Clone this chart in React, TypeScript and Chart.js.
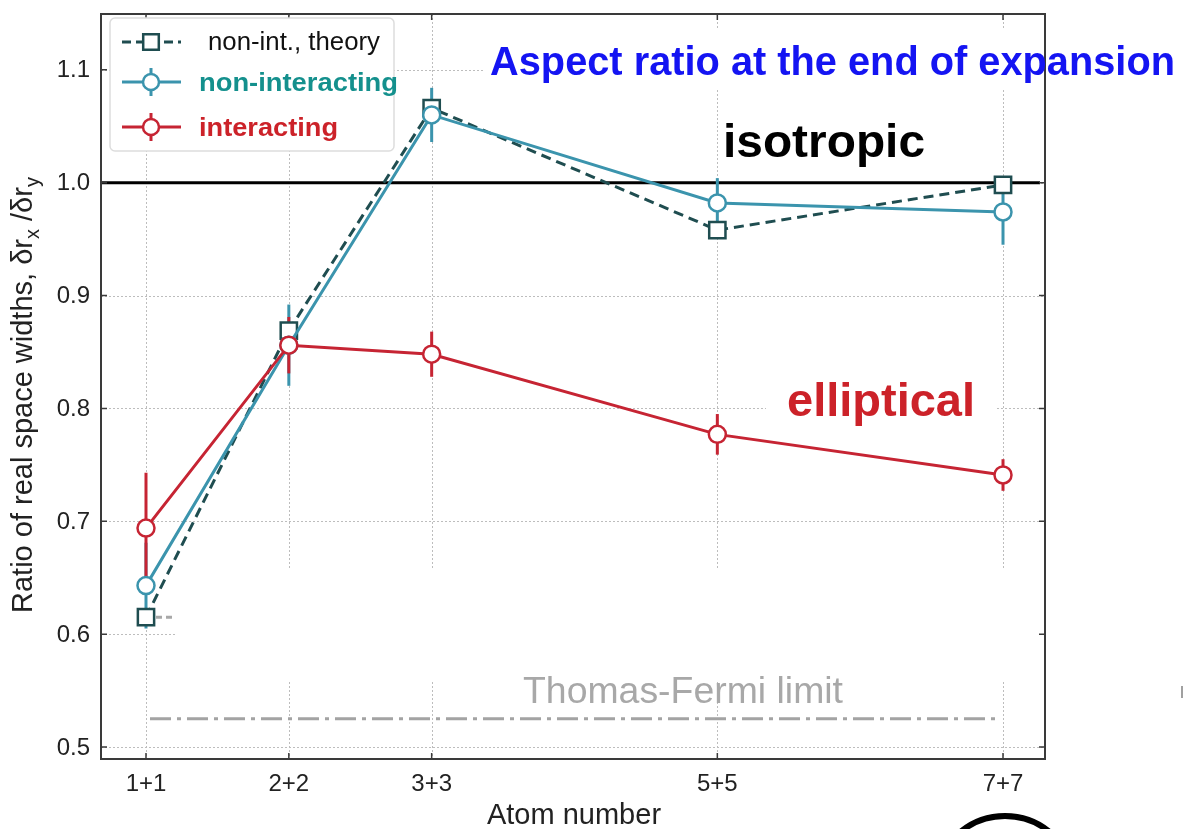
import React, { useEffect, useRef } from 'react';
import { Chart, registerables } from 'chart.js';

Chart.register(...registerables);

// Atom numbers (per spin state) and their axis labels
const atomCounts = [1, 2, 3, 5, 7];
const atomLabels = ['1+1', '2+2', '3+3', '5+5', '7+7'];

// Aspect ratio δr_x / δr_y after expansion
const theoryRatio = [0.615, 0.869, 1.066, 0.958, 0.998];
const nonInteractingRatio = [0.643, 0.856, 1.06, 0.982, 0.974];
const nonInteractingErr = [0.038, 0.036, 0.024, 0.022, 0.029];
const interactingRatio = [0.694, 0.856, 0.848, 0.777, 0.741];
const interactingErr = [0.049, 0.025, 0.02, 0.018, 0.014];

const yTickValues = [0.5, 0.6, 0.7, 0.8, 0.9, 1.0, 1.1];
const isotropicRatio = 1.0;
const thomasFermiRatio = 0.525;

const FONT = '"Liberation Sans", Arial, Helvetica, sans-serif';
const C_THEORY = '#1f4d50';
const C_NONINT = '#3b94ad';
const C_INT = '#c62433';
const C_NONINT_TEXT = '#14908d';
const C_INT_TEXT = '#cc2229';

function fitText(
  ctx: CanvasRenderingContext2D,
  text: string,
  left: number,
  baseline: number,
  width: number,
  font: string,
  color: string
) {
  ctx.save();
  ctx.font = font;
  ctx.fillStyle = color;
  ctx.textAlign = 'left';
  ctx.textBaseline = 'alphabetic';
  const w = ctx.measureText(text).width;
  ctx.translate(left, baseline);
  ctx.scale(width / w, 1);
  ctx.fillText(text, 0, 0);
  ctx.restore();
}

function drawMarker(ctx: CanvasRenderingContext2D, kind: 'rect' | 'circle', x: number, y: number, color: string) {
  ctx.save();
  ctx.setLineDash([]);
  ctx.fillStyle = '#ffffff';
  ctx.strokeStyle = color;
  ctx.lineWidth = 2.5;
  ctx.beginPath();
  if (kind === 'rect') {
    ctx.rect(x - 7.8, y - 7.8, 15.6, 15.6);
  } else {
    ctx.arc(x, y, 8, 0, Math.PI * 2);
  }
  ctx.fill();
  ctx.stroke();
  ctx.restore();
}

const underlayPlugin = {
  id: 'underlay',
  beforeDatasetsDraw(chart: any) {
    const { ctx, chartArea: a, scales } = chart;
    const xs = scales.x;
    const ys = scales.y;
    ctx.save();
    // dotted grid
    ctx.strokeStyle = '#bdbdbd';
    ctx.lineWidth = 1;
    ctx.setLineDash([2, 2]);
    atomCounts.forEach((v) => {
      const px = Math.round(xs.getPixelForValue(v)) + 0.5;
      ctx.beginPath();
      ctx.moveTo(px, a.top);
      ctx.lineTo(px, a.bottom);
      ctx.stroke();
    });
    yTickValues.forEach((v) => {
      const py = Math.round(ys.getPixelForValue(v)) + 0.5;
      ctx.beginPath();
      ctx.moveTo(a.left, py);
      ctx.lineTo(a.right, py);
      ctx.stroke();
    });
    ctx.setLineDash([]);

    // text backgrounds covering the grid
    ctx.fillStyle = '#ffffff';
    ctx.fillRect(485, 30, a.right - 487, 60);
    ctx.fillRect(766, 378, 231, 52);
    ctx.fillRect(175, 568, a.right - 178, 114);

    // isotropic reference
    const yIso = ys.getPixelForValue(isotropicRatio);
    ctx.strokeStyle = '#000000';
    ctx.lineWidth = 3;
    ctx.beginPath();
    ctx.moveTo(a.left, yIso);
    ctx.lineTo(a.right - 5, yIso);
    ctx.stroke();

    // Thomas-Fermi limit
    const yTF = ys.getPixelForValue(thomasFermiRatio);
    ctx.strokeStyle = '#a3a3a3';
    ctx.lineWidth = 3;
    ctx.setLineDash([21, 6, 4, 6]);
    ctx.beginPath();
    ctx.moveTo(xs.getPixelForValue(atomCounts[0]) + 4, yTF);
    ctx.lineTo(xs.getPixelForValue(atomCounts[atomCounts.length - 1]) - 2, yTF);
    ctx.stroke();

    // short theory tick next to the 1+1 point
    const yT0 = ys.getPixelForValue(theoryRatio[0]);
    const xT0 = xs.getPixelForValue(atomCounts[0]);
    ctx.strokeStyle = '#a8a8a8';
    ctx.setLineDash([6, 4]);
    ctx.beginPath();
    ctx.moveTo(xT0 + 10, yT0);
    ctx.lineTo(xT0 + 30, yT0);
    ctx.stroke();
    ctx.setLineDash([]);

    // error bars
    ctx.lineWidth = 3;
    ctx.lineCap = 'butt';
    const bars = (vals: number[], errs: number[], color: string) => {
      ctx.strokeStyle = color;
      vals.forEach((v, i) => {
        const px = xs.getPixelForValue(atomCounts[i]);
        ctx.beginPath();
        ctx.moveTo(px, ys.getPixelForValue(v + errs[i]));
        ctx.lineTo(px, ys.getPixelForValue(v - errs[i]));
        ctx.stroke();
      });
    };
    bars(nonInteractingRatio, nonInteractingErr, C_NONINT);
    bars(interactingRatio, interactingErr, C_INT);
    ctx.restore();
  },
};

const overlayPlugin = {
  id: 'overlay',
  afterDatasetsDraw(chart: any) {
    const { ctx, chartArea: a, scales } = chart;
    const xs = scales.x;
    const ys = scales.y;
    ctx.save();
    ctx.setLineDash([]);

    // frame with inward ticks
    ctx.strokeStyle = '#3a3a3a';
    ctx.lineWidth = 2;
    ctx.strokeRect(a.left, a.top, a.right - a.left, a.bottom - a.top);
    ctx.lineWidth = 1.5;
    atomCounts.forEach((v) => {
      const px = xs.getPixelForValue(v);
      ctx.beginPath();
      ctx.moveTo(px, a.bottom);
      ctx.lineTo(px, a.bottom - 6);
      ctx.moveTo(px, a.top);
      ctx.lineTo(px, a.top + 6);
      ctx.stroke();
    });
    yTickValues.forEach((v) => {
      const py = ys.getPixelForValue(v);
      ctx.beginPath();
      ctx.moveTo(a.left, py);
      ctx.lineTo(a.left + 6, py);
      ctx.moveTo(a.right, py);
      ctx.lineTo(a.right - 6, py);
      ctx.stroke();
    });

    // tick labels
    ctx.fillStyle = '#222222';
    ctx.font = `24px ${FONT}`;
    ctx.textAlign = 'right';
    ctx.textBaseline = 'middle';
    yTickValues.forEach((v) => {
      ctx.fillText(v.toFixed(1), 90, ys.getPixelForValue(v) + 1);
    });
    ctx.textAlign = 'center';
    atomLabels.forEach((lab, i) => {
      ctx.fillText(lab, xs.getPixelForValue(atomCounts[i]), 784);
    });

    // x axis title
    ctx.font = `29px ${FONT}`;
    ctx.fillText('Atom number', (a.left + a.right) / 2 + 1, 816);

    // y axis title with subscripts
    ctx.save();
    ctx.translate(32, 613);
    ctx.rotate(-Math.PI / 2);
    ctx.textAlign = 'left';
    ctx.textBaseline = 'alphabetic';
    const big = `29px ${FONT}`;
    const small = `20px ${FONT}`;
    let cx = 0;
    const piece = (t: string, f: string, dy: number) => {
      ctx.font = f;
      ctx.fillText(t, cx, dy);
      cx += ctx.measureText(t).width;
    };
    piece('Ratio of real space widths, δr', big, 0);
    piece('x', small, 7);
    piece(' /δr', big, 0);
    piece('y', small, 7);
    ctx.restore();

    // annotations
    fitText(ctx, 'Aspect ratio at the end of expansion', 490, 75, 685, `bold 40px ${FONT}`, '#1414f2');
    fitText(ctx, 'isotropic', 723, 157, 202, `bold 47px ${FONT}`, '#000000');
    fitText(ctx, 'elliptical', 787, 416, 188, `bold 47px ${FONT}`, C_INT_TEXT);
    fitText(ctx, 'Thomas-Fermi limit', 523, 703, 320, `36px ${FONT}`, '#a8a8a8');

    // legend
    const lx = 110, ly = 18, lw = 284, lh = 133;
    ctx.beginPath();
    ctx.roundRect(lx, ly, lw, lh, 5);
    ctx.fillStyle = '#ffffff';
    ctx.fill();
    ctx.strokeStyle = '#dddddd';
    ctx.lineWidth = 1.5;
    ctx.stroke();

    const rows = [
      { y: 42, color: C_THEORY, dash: [9, 5], kind: 'rect' as const, err: false },
      { y: 82, color: C_NONINT, dash: [], kind: 'circle' as const, err: true },
      { y: 127, color: C_INT, dash: [], kind: 'circle' as const, err: true },
    ];
    rows.forEach((r) => {
      ctx.strokeStyle = r.color;
      ctx.lineWidth = 3;
      ctx.setLineDash(r.dash);
      ctx.beginPath();
      ctx.moveTo(122, r.y);
      ctx.lineTo(181, r.y);
      ctx.stroke();
      ctx.setLineDash([]);
      if (r.err) {
        ctx.beginPath();
        ctx.moveTo(151, r.y - 14);
        ctx.lineTo(151, r.y + 14);
        ctx.stroke();
      }
      drawMarker(ctx, r.kind, 151, r.y, r.color);
    });
    fitText(ctx, 'non-int., theory', 208, 50, 172, `25px ${FONT}`, '#111111');
    fitText(ctx, 'non-interacting', 199, 91, 199, `bold 25px ${FONT}`, C_NONINT_TEXT);
    fitText(ctx, 'interacting', 199, 136, 139, `bold 25px ${FONT}`, C_INT_TEXT);

    // marks at the page edges
    ctx.strokeStyle = '#000000';
    ctx.lineWidth = 6;
    ctx.beginPath();
    ctx.arc(1005, 886, 70, 0, Math.PI * 2);
    ctx.stroke();
    ctx.fillStyle = '#a0a0a0';
    ctx.fillRect(1181, 686, 2, 12);

    ctx.restore();
  },
};

export default function App() {
  const canvasRef = useRef<HTMLCanvasElement | null>(null);

  useEffect(() => {
    if (!canvasRef.current) return;
    const pts = (vals: number[]) => vals.map((v, i) => ({ x: atomCounts[i], y: v }));
    const chart = new Chart(canvasRef.current, {
      type: 'line',
      data: {
        datasets: [
          {
            label: 'interacting',
            data: pts(interactingRatio),
            borderColor: C_INT,
            borderWidth: 3,
            pointStyle: 'circle',
            pointRadius: 8.5,
            pointBorderWidth: 2.5,
            pointBackgroundColor: '#ffffff',
            pointBorderColor: C_INT,
            order: 0,
          },
          {
            label: 'non-interacting',
            data: pts(nonInteractingRatio),
            borderColor: C_NONINT,
            borderWidth: 3,
            pointStyle: 'circle',
            pointRadius: 8.5,
            pointBorderWidth: 2.5,
            pointBackgroundColor: '#ffffff',
            pointBorderColor: C_NONINT,
            order: 1,
          },
          {
            label: 'non-int., theory',
            data: pts(theoryRatio),
            borderColor: C_THEORY,
            borderWidth: 3,
            borderDash: [10, 6],
            pointStyle: 'rect',
            pointRadius: 11.5,
            pointBorderWidth: 2.5,
            pointBackgroundColor: '#ffffff',
            pointBorderColor: C_THEORY,
            order: 2,
          },
        ],
      },
      options: {
        responsive: false,
        animation: false,
        devicePixelRatio: 1,
        layout: { padding: { top: 11, right: 138, left: 0, bottom: 0 } },
        plugins: {
          legend: { display: false },
          title: { display: false },
          tooltip: { enabled: false },
        },
        scales: {
          x: {
            type: 'linear',
            min: 0.685,
            max: 7.294,
            grid: { display: false },
            border: { display: false },
            ticks: { display: false },
            afterFit: (s: any) => {
              s.height = 70;
            },
          },
          y: {
            type: 'linear',
            min: 0.4894,
            max: 1.1494,
            grid: { display: false },
            border: { display: false },
            ticks: { display: false },
            afterFit: (s: any) => {
              s.width = 101;
            },
          },
        },
      },
      plugins: [underlayPlugin, overlayPlugin],
    } as any);
    return () => chart.destroy();
  }, []);

  return (
    <div style={{ position: 'absolute', left: 0, top: 0, width: 1183, height: 829, background: '#fff' }}>
      <canvas ref={canvasRef} width={1183} height={829} style={{ display: 'block' }} />
    </div>
  );
}
